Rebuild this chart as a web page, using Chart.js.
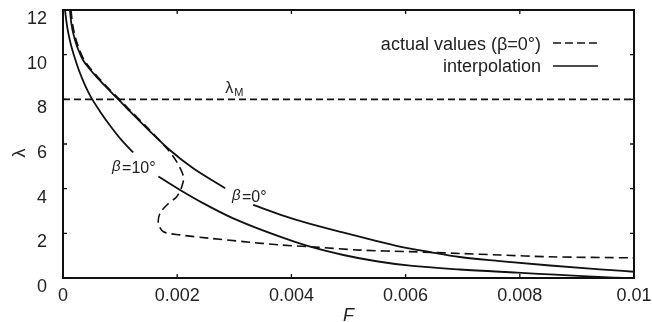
<!DOCTYPE html>
<html>
<head>
<meta charset="utf-8">
<script src="https://cdn.jsdelivr.net/npm/chart.js@4.4.0/dist/chart.umd.min.js"></script>
<style>
  body { margin: 0; background: #fff; }
  .chart-box { width: 652px; height: 322px; }
</style>
</head>
<body>
<div class="chart-box"><canvas id="chart"></canvas></div>
<script>
// tick labels
var xTickLabels = ["0", "0.002", "0.004", "0.006", "0.008", "0.01"];
var yTickLabels = ["0", "2", "4", "6", "8", "10", "12"];

// interpolation, beta = 0 deg (null = gap for the label)
var fInterp0 = [0.00012, 0.00015, 0.0002, 0.00027, 0.00035, 0.00046, 0.0006, 0.00077, 0.00096, 0.00112,
  0.00147, 0.00187, 0.00228, 0.00284, null,
  0.00333, 0.0038, 0.00433, 0.0049, 0.00543, 0.0059, 0.00643, 0.00695, 0.00765, 0.00853, 0.0094, 0.01];
var lambdaInterp0 = [12, 11.33, 10.75, 10.21, 9.76, 9.38, 8.97, 8.51, 8.02, 7.6,
  6.7, 5.73, 4.91, 4.02, null,
  3.27, 2.84, 2.42, 2.04, 1.7, 1.41, 1.16, 0.94, 0.76, 0.56, 0.39, 0.28];

// interpolation, beta = 10 deg
var fInterp10 = [0.000035, 0.000061, 0.000096, 0.00014, 0.000193, 0.00028, 0.000385, 0.00049, 0.000648,
  0.000823, 0.00103, 0.00123, null,
  0.00167, 0.00205, 0.00246, 0.00298, 0.0038, 0.00433, 0.00491, 0.00549, 0.00608, 0.00695, 0.00795,
  0.00862, 0.00928, 0.00984];
var lambdaInterp10 = [12, 11.46, 10.93, 10.43, 9.96, 9.29, 8.64, 8.1, 7.46,
  6.83, 6.16, 5.62, null,
  4.54, 3.94, 3.34, 2.67, 1.85, 1.4, 1.03, 0.75, 0.55, 0.38, 0.24,
  0.15, 0.06, 0];

// actual values, beta = 0 deg
var fActual0 = [0.00014, 0.00017, 0.00022, 0.00029, 0.00037, 0.00048, 0.00062, 0.00079, 0.00098, 0.00114,
  0.00149, 0.00182, 0.00199, 0.00211, 0.00208, 0.00199, 0.00182, 0.0017, 0.00167, 0.00176, 0.00205,
  0.00257, 0.00316, 0.0038, 0.00433, 0.0052, 0.00608, 0.00695, 0.00765, 0.00853, 0.01];
var lambdaActual0 = [12, 11.33, 10.75, 10.21, 9.76, 9.38, 8.97, 8.51, 8.02, 7.6,
  6.7, 5.8, 5.21, 4.54, 4.09, 3.64, 3.27, 2.9, 2.45, 2.07, 1.93,
  1.78, 1.63, 1.48, 1.4, 1.25, 1.18, 1.1, 1.03, 0.95, 0.9];

var lambdaM = 8;

var textColor = "#222";
var lineColor = "#111";

function toPoints(fs, ls) {
  var pts = [];
  for (var i = 0; i < fs.length; i++) {
    if (fs[i] === null) {
      pts.push({ x: fs[i - 1], y: null });
    } else {
      pts.push({ x: fs[i], y: ls[i] });
    }
  }
  return pts;
}

// keep the plot box fixed, labels may hang over the edges
function noPadding(scale) {
  scale.paddingTop = 0;
  scale.paddingBottom = 0;
  scale.paddingLeft = 0;
  scale.paddingRight = 0;
}

var annotations = {
  id: "annotations",
  afterDraw: function(chart) {
    var ctx = chart.ctx;
    var a = chart.chartArea;
    var xs = chart.scales.x;
    var ys = chart.scales.y;

    ctx.save();
    // frame + inward ticks
    ctx.strokeStyle = lineColor;
    ctx.lineWidth = 2;
    ctx.strokeRect(a.left, a.top, a.right - a.left, a.bottom - a.top);
    ctx.lineWidth = 1.3;
    ctx.beginPath();
    xs.ticks.forEach(function(t) {
      var px = xs.getPixelForValue(t.value);
      ctx.moveTo(px, a.bottom); ctx.lineTo(px, a.bottom - 4);
      ctx.moveTo(px, a.top); ctx.lineTo(px, a.top + 4);
    });
    ys.ticks.forEach(function(t) {
      var py = ys.getPixelForValue(t.value);
      ctx.moveTo(a.left, py); ctx.lineTo(a.left + 4, py);
      ctx.moveTo(a.right, py); ctx.lineTo(a.right - 4, py);
    });
    ctx.stroke();

    // curve labels
    ctx.fillStyle = textColor;
    ctx.textBaseline = "alphabetic";
    ctx.textAlign = "left";

    var x = xs.getPixelForValue(0.00284), y = ys.getPixelForValue(8.28);
    ctx.font = "16px 'Liberation Sans'";
    ctx.fillText("λ", x, y);
    ctx.font = "11px 'Liberation Sans'";
    ctx.fillText("M", x + 9, y + 3);

    x = xs.getPixelForValue(0.00086); y = ys.getPixelForValue(4.7);
    ctx.font = "italic 15px 'Liberation Sans'";
    ctx.fillText("β", x, y - 2);
    ctx.font = "16px 'Liberation Sans'";
    ctx.fillText("=10°", x + 10, y);

    x = xs.getPixelForValue(0.00296); y = ys.getPixelForValue(3.4);
    ctx.font = "italic 15px 'Liberation Sans'";
    ctx.fillText("β", x, y - 2);
    ctx.font = "16px 'Liberation Sans'";
    ctx.fillText("=0°", x + 10, y);

    // y axis title, sits a bit below the middle
    ctx.save();
    ctx.translate(a.left - 43, (a.top + a.bottom) / 2 + 9);
    ctx.rotate(-Math.PI / 2);
    ctx.textAlign = "center";
    ctx.textBaseline = "middle";
    ctx.font = "18px 'Liberation Sans'";
    ctx.fillText("λ", 0, 0);
    ctx.restore();

    // legend
    ctx.font = "18px 'Liberation Sans'";
    ctx.textAlign = "right";
    ctx.fillText("actual values (β=0°)", a.right - 93, a.top + 40);
    ctx.fillText("interpolation", a.right - 93, a.top + 62);
    ctx.lineWidth = 1.6;
    ctx.setLineDash([8, 4]);
    ctx.beginPath();
    ctx.moveTo(a.right - 81, a.top + 33); ctx.lineTo(a.right - 36, a.top + 33);
    ctx.stroke();
    ctx.setLineDash([]);
    ctx.beginPath();
    ctx.moveTo(a.right - 81, a.top + 56); ctx.lineTo(a.right - 36, a.top + 56);
    ctx.stroke();
    ctx.restore();
  }
};

var ctx = document.getElementById("chart").getContext("2d");
var chart = new Chart(ctx, {
  type: "scatter",
  data: {
    datasets: [
      {
        label: "lambda_M",
        data: [{ x: 0, y: lambdaM }, { x: 0.01, y: lambdaM }],
        showLine: true,
        borderColor: lineColor,
        borderWidth: 1.6,
        borderDash: [7, 4],
        pointRadius: 0,
        tension: 0
      },
      {
        label: "actual values (beta=0)",
        data: toPoints(fActual0, lambdaActual0),
        showLine: true,
        borderColor: lineColor,
        borderWidth: 1.6,
        borderDash: [9, 5],
        pointRadius: 0,
        tension: 0.3
      },
      {
        label: "interpolation beta=0",
        data: toPoints(fInterp0, lambdaInterp0),
        showLine: true,
        spanGaps: false,
        borderColor: lineColor,
        borderWidth: 1.8,
        pointRadius: 0,
        cubicInterpolationMode: "monotone"
      },
      {
        label: "interpolation beta=10",
        data: toPoints(fInterp10, lambdaInterp10),
        showLine: true,
        spanGaps: false,
        borderColor: lineColor,
        borderWidth: 1.8,
        pointRadius: 0,
        cubicInterpolationMode: "monotone"
      }
    ]
  },
  options: {
    responsive: true,
    maintainAspectRatio: false,
    animation: false,
    layout: { padding: { top: 10, right: 18, bottom: 0, left: 0 } },
    plugins: {
      legend: { display: false },
      tooltip: { enabled: false }
    },
    scales: {
      x: {
        type: "linear",
        min: 0,
        max: 0.01,
        grid: { display: false, drawTicks: false },
        border: { display: false },
        ticks: {
          stepSize: 0.002,
          padding: 7,
          maxRotation: 0,
          color: textColor,
          font: { family: "'Liberation Sans'", size: 18 },
          callback: function(value, index) { return xTickLabels[index]; }
        },
        title: {
          display: true,
          text: "F",
          color: textColor,
          padding: { top: 0, bottom: -5 },
          font: { family: "'Liberation Sans'", size: 18, style: "italic" }
        },
        afterFit: function(scale) { scale.height = 44; noPadding(scale); }
      },
      y: {
        type: "linear",
        min: 0,
        max: 12,
        grid: { display: false, drawTicks: false },
        border: { display: false },
        ticks: {
          stepSize: 2,
          padding: 16,
          labelOffset: 9,
          color: textColor,
          font: { family: "'Liberation Sans'", size: 18 },
          callback: function(value, index) { return yTickLabels[index]; }
        },
        afterFit: function(scale) { scale.width = 63; noPadding(scale); }
      }
    }
  },
  plugins: [annotations]
});
</script>
</body>
</html>
